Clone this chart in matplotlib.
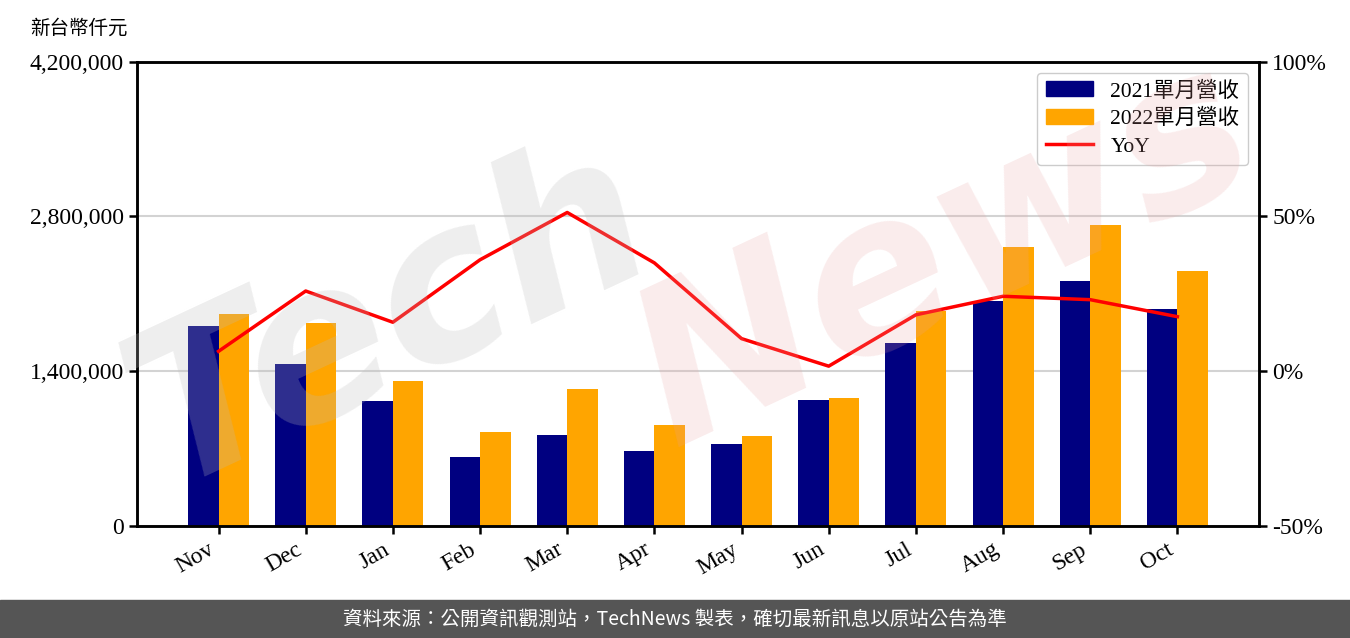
import numpy as np
import matplotlib.pyplot as plt
from matplotlib.patches import Patch
from matplotlib.lines import Line2D

# data (新台幣仟元)
months = ['Nov', 'Dec', 'Jan', 'Feb', 'Mar', 'Apr', 'May', 'Jun', 'Jul', 'Aug', 'Sep', 'Oct']
rev_2021 = [1804000, 1461000, 1126000, 621000, 819000, 675000, 738000, 1135000, 1650000, 2039000, 2219000, 1966000]
rev_2022 = [1921000, 1840000, 1307000, 846000, 1235000, 910000, 810000, 1153000, 1948000, 2526000, 2725000, 2310000]
yoy = [6.4, 25.9, 15.8, 36.0, 51.3, 35.0, 10.5, 1.6, 18.2, 24.2, 23.1, 17.6]

left_ticks = [0, 1400000, 2800000, 4200000]
right_ticks = [-50, 0, 50, 100]

serif = ['Liberation Serif', 'Noto Sans CJK TC']
plt.rcParams['font.family'] = serif

fig = plt.figure(figsize=(13.5, 6.38), dpi=100)
ax = fig.add_axes([0.1015, 0.176, 0.831, 0.727])
ax2 = ax.twinx()

x = np.arange(len(months))
w = 0.35
ax.bar(x - w / 2, rev_2021, w, color='#000080', zorder=2)
ax.bar(x + w / 2, rev_2022, w, color='#ffa500', zorder=2)
ax2.plot(x, yoy, color='red', lw=2.5, zorder=3)

ax.set_ylim(0, 4200000)
ax.set_yticks(left_ticks)
ax.set_yticklabels([f'{v:,}' for v in left_ticks], fontsize=17)
ax.yaxis.grid(True, color='#d3d3d3', lw=1.5, zorder=0)
ax.set_axisbelow(True)
ax.set_xticks(x)
ax.set_xticklabels(months, rotation=30, ha='right', fontsize=17)

ax2.set_ylim(-50, 100)
ax2.set_yticks(right_ticks)
ax2.set_yticklabels([f'{v}%' for v in right_ticks], fontsize=17)

for a in (ax, ax2):
    for s in a.spines.values():
        s.set_linewidth(1.8)
    a.tick_params(width=1.8, length=6)

handles = [Patch(color='#000080'), Patch(color='#ffa500'), Line2D([], [], color='red', lw=2.5)]
ax2.legend(handles, ['2021單月營收', '2022單月營收', 'YoY'], loc='upper right',
           prop={'family': serif, 'size': 15.5}, framealpha=1, labelspacing=0.35,
           edgecolor='#cccccc', handlelength=2.2, borderaxespad=0.5)

fig.text(0.022, 0.955, '新台幣仟元', fontsize=14, ha='left', va='center')

# watermark
fig.text(0.29, 0.50, 'Tech', fontsize=155, color='#bbbbbb', alpha=0.25, rotation=25,
         ha='center', va='center', family='DejaVu Sans', style='italic', weight='bold', zorder=10)
fig.text(0.70, 0.60, 'News', fontsize=155, color='#e8a0a0', alpha=0.2, rotation=25,
         ha='center', va='center', family='DejaVu Sans', style='italic', weight='bold', zorder=10)

# footer band
fig.patches.append(plt.Rectangle((0, 0), 1, 0.06, transform=fig.transFigure,
                                 color='#555555', zorder=0))
fig.text(0.5, 0.03, '資料來源：公開資訊觀測站，TechNews 製表，確切最新訊息以原站公告為準',
         color='white', fontsize=14, ha='center', va='center',
         family=['Noto Sans CJK TC', 'DejaVu Sans'])

fig.savefig('out.png', dpi=100)
